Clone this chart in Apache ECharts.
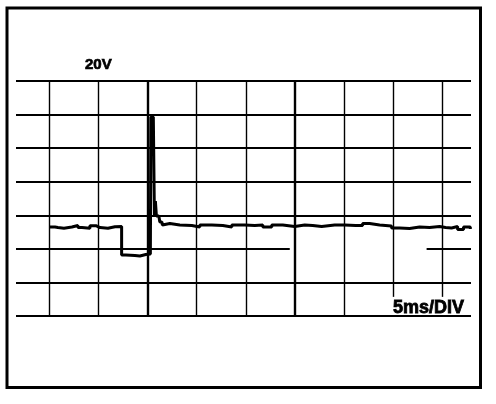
<!DOCTYPE html>
<html>
<head>
<meta charset="utf-8">
<script src="https://cdn.jsdelivr.net/npm/echarts@6/dist/echarts.min.js"></script>
<style>
html, body { margin: 0; padding: 0; background: #fff; }
#chart { width: 496px; height: 404px; }
</style>
</head>
<body>
<div id="chart"></div>
<script>
// scope trace, time in ms, volts
var timeMs = [0, 0.61, 0.91, 1.52, 2.33, 2.94, 3.35, 4.16, 4.77, 5.18, 5.99, 6.70, 7.38,
    7.38, 7.81, 8.73, 9.23, 9.84, 10.30,
    10.35, 10.60, 10.71, 10.81, 10.91, 11.16, 11.26, 11.47, 11.52,
    11.57, 12.28, 13.29, 14.51, 15.32, 16.54, 17.66, 18.57, 19.89, 20.90, 21.72, 22.63,
    23.75, 24.96, 25.98, 26.79, 27.70, 29.02, 30.04, 31.15, 31.86, 32.57, 33.59, 34.78,
    34.81, 35.62, 36.63, 37.65, 38.66, 39.68, 40.29, 40.90, 41.51, 42.11, 42.80];
var volts = [53.0, 52.7, 52.3, 53.0, 53.9, 52.7, 52.3, 53.8, 52.7, 52.3, 53.2, 53.3, 53.2,
    36.3, 36.0, 35.7, 36.6, 36.9, 37.2,
    118.6, 118.6, 59.6, 68.5, 59.6, 59.6, 56.0, 56.0, 54.2,
    55.1, 54.2, 53.9, 53.0, 54.2, 53.9, 53.0, 54.2, 53.9, 54.2, 53.0, 54.2,
    53.3, 54.2, 53.9, 53.3, 54.2, 54.2, 53.9, 53.9, 55.1, 54.2, 53.6, 53.9,
    52.4, 52.1, 53.0, 52.7, 53.3, 52.7, 52.4, 53.3, 51.5, 53.0, 51.8];

// graticule: 5 ms/div, 20 V/div
var divTimes = [0, 5, 10, 15, 20, 25, 30, 35, 40];
var divVolts = [0, 20, 40, 60, 80, 100, 120, 140];
var voltsLabel = '20V';
var timeLabel = '5ms/DIV';

var xMin = -3.35, xMax = 42.87;

var gridLines = [];
divVolts.forEach(function (v) {
    if (v === 40) {
        // this line has a break in the middle
        gridLines.push([{ coord: [xMin, v] }, { coord: [24.46, v] }]);
        gridLines.push([{ coord: [38.36, v] }, { coord: [xMax, v] }]);
    } else {
        gridLines.push([{ coord: [xMin, v] }, { coord: [xMax, v] }]);
    }
});
divTimes.forEach(function (t) {
    var bottom = t >= 35 ? 11.4 : 0; // last two stop above the time label
    var w = (t === 10 || t === 25) ? 2.4 : 1.4;
    gridLines.push([{ coord: [t, 140], lineStyle: { width: w } }, { coord: [t, bottom] }]);
});

var chart = echarts.init(document.getElementById('chart'));
chart.setOption({
    animation: false,
    backgroundColor: '#fff',
    grid: { left: 16, top: 81, width: 455, height: 235 },
    xAxis: { type: 'value', min: xMin, max: xMax, show: false },
    yAxis: { type: 'value', min: 0, max: 140, show: false },
    graphic: [
        {
            type: 'rect', shape: { x: 7, y: 8, width: 473.5, height: 379.5 },
            style: { fill: 'none', stroke: '#000', lineWidth: 3 }
        },
        {
            type: 'text', x: 85, y: 65,
            style: {
                text: voltsLabel, font: 'bold 15px "Liberation Sans", Arial, sans-serif',
                fill: '#000', stroke: '#000', lineWidth: 0.7, verticalAlign: 'middle'
            }
        },
        {
            type: 'text', x: 393, y: 308,
            style: {
                text: timeLabel, font: 'bold 18px "Liberation Sans", Arial, sans-serif',
                fill: '#000', stroke: '#000', lineWidth: 0.8, verticalAlign: 'middle'
            }
        }
    ],
    series: [
        {
            type: 'line',
            data: [],
            z: 1,
            markLine: {
                silent: true,
                symbol: ['none', 'none'],
                label: { show: false },
                lineStyle: { color: '#000', width: 2, type: 'solid' },
                emphasis: { disabled: true },
                data: gridLines
            }
        },
        {
            type: 'line',
            z: 3,
            step: 'end',
            data: timeMs.map(function (t, i) { return [t, volts[i]]; }),
            showSymbol: false,
            symbol: 'none',
            lineStyle: { color: '#000', width: 3 },
            itemStyle: { color: '#000' }
        }
    ]
});
</script>
</body>
</html>
